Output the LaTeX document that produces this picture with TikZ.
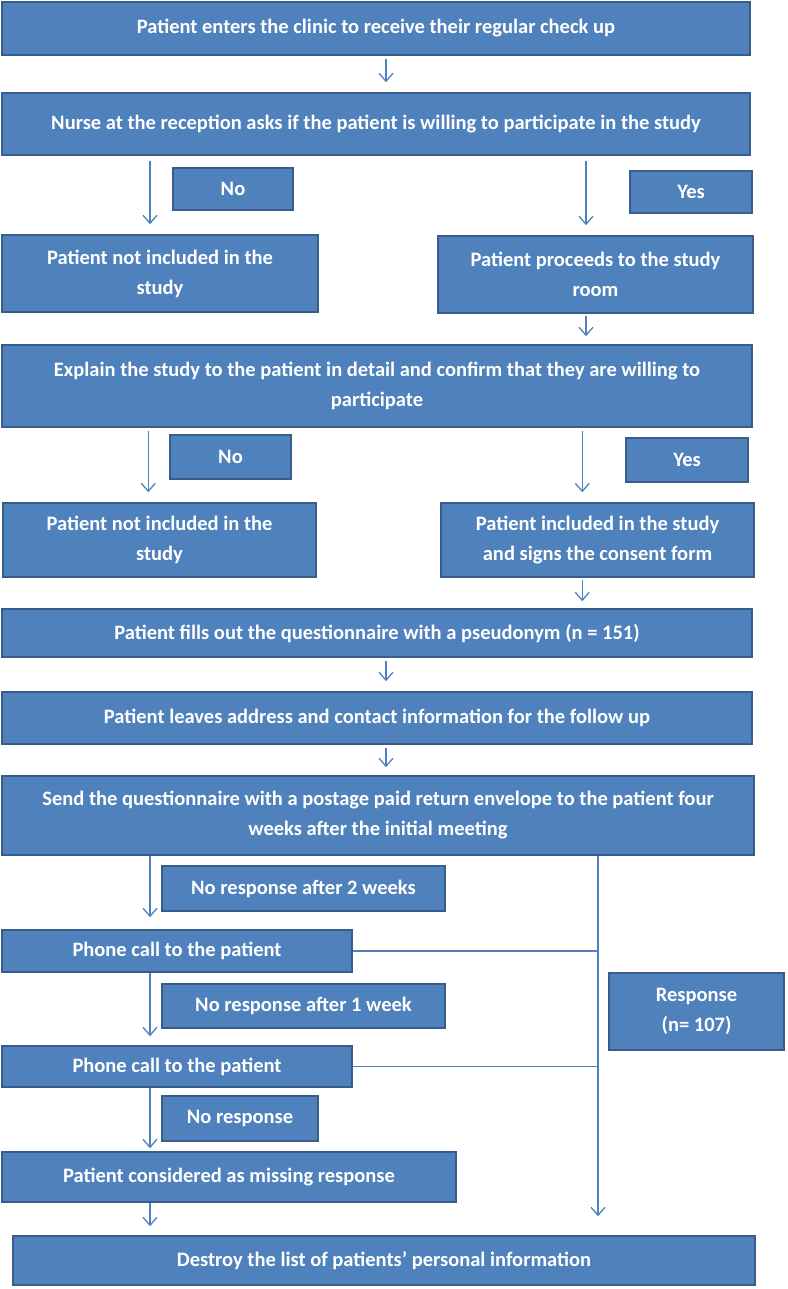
\documentclass[tikz,border=0pt]{standalone}
\usepackage{fontspec}
\setmainfont{Carlito}
\usepackage{xcolor}
\usepackage{tikz}
\usetikzlibrary{arrows.meta,positioning}
\definecolor{boxblue}{HTML}{4F81BD}
\definecolor{edgeblue}{HTML}{385D8A}
\definecolor{linkblue}{HTML}{4F81BD}

\begin{document}
\begin{tikzpicture}[x=1pt,y=-1pt,
  stepbox/.style={draw=edgeblue,fill=boxblue,line width=1.5pt,text=white,
    font=\fontsize{20.5}{30}\selectfont\bfseries,align=center,inner sep=0pt},
  flow/.style={draw=linkblue,line width=1.3pt,-{Straight Barb[length=8pt,width=14pt]}},
  link/.style={draw=linkblue,line width=1.3pt}]
  \useasboundingbox (0,0) rectangle (787,1289);
  \coordinate (lanel) at (150,0);
  \coordinate (laner) at (586,0);
  \coordinate (lanem) at (386,0);
  \coordinate (laneresp) at (598,0);

  \node[stepbox,minimum width=748,minimum height=53] (enter) at (376,28.5) {Patient enters the clinic to receive their regular check up};
  \node[stepbox,minimum width=748,minimum height=62] (nurse) at (376,124) {Nurse at the reception asks if the patient is willing to participate in the study};
  \node[stepbox,minimum width=120,minimum height=42] (no1) at (233,189) {No};
  \node[stepbox,minimum width=122,minimum height=42] (yes1) at (691,192) {Yes};
  \node[stepbox,minimum width=316,minimum height=77] (notin1) at (160,273.5) {Patient not included in the\\study};
  \node[stepbox,minimum width=315,minimum height=77] (proceed) at (595.5,274.5) {Patient proceeds to the study\\room};
  \node[stepbox,minimum width=750,minimum height=82] (explain) at (377,386) {Explain the study to the patient in detail and confirm that they are willing to\\participate};
  \node[stepbox,minimum width=121,minimum height=44] (no2) at (230.5,457) {No};
  \node[stepbox,minimum width=122,minimum height=44] (yes2) at (687,460) {Yes};
  \node[stepbox,minimum width=313,minimum height=74] (notin2) at (159.5,540) {Patient not included in the\\study};
  \node[stepbox,minimum width=313,minimum height=74] (included) at (597.5,540) {Patient included in the study\\and signs the consent form};
  \node[stepbox,minimum width=750,minimum height=48] (fills) at (377,633) {Patient fills out the questionnaire with a pseudonym (n = 151)};
  \node[stepbox,minimum width=750,minimum height=52] (leaves) at (377,718) {Patient leaves address and contact information for the follow up};
  \node[stepbox,minimum width=752,minimum height=79] (send) at (378,815.5) {Send the questionnaire with a postage paid return envelope to the patient four\\weeks after the initial meeting};
  \node[stepbox,minimum width=283,minimum height=45] (nrtwo) at (303.5,888.5) {No response after 2 weeks};
  \node[stepbox,minimum width=350,minimum height=42] (phone1) at (177,951) {Phone call to the patient};
  \node[stepbox,minimum width=283,minimum height=44] (nrone) at (303.5,1006) {No response after 1 week};
  \node[stepbox,minimum width=175,minimum height=77] (response) at (696.5,1011.5) {Response\\(n= 107)};
  \node[stepbox,minimum width=350,minimum height=41] (phone2) at (177,1066.5) {Phone call to the patient};
  \node[stepbox,minimum width=156,minimum height=45] (noresp) at (240,1118.5) {No response};
  \node[stepbox,minimum width=454,minimum height=50] (missing) at (229,1177) {Patient considered as missing response};
  \node[stepbox,minimum width=742,minimum height=49] (destroy) at (384,1260.5) {Destroy the list of patients' personal information};

  \draw[flow,shorten <=3pt,shorten >=10pt] (enter.south -| lanem) -- (nurse.north -| lanem);
  \draw[flow,shorten <=5pt,shorten >=10pt] (nurse.south -| lanel) -- (notin1.north -| lanel);
  \draw[flow,shorten <=5pt,shorten >=10pt] (nurse.south -| laner) -- (proceed.north -| laner);
  \draw[flow,shorten <=2pt,shorten >=8pt] (proceed.south -| laner) -- (explain.north -| laner);
  \draw[flow,shorten <=3pt,shorten >=10pt] (explain.south -| notin2.north west) ++(146,0) coordinate (ex2) -- (notin2.north -| ex2);
  \draw[flow,shorten <=3pt,shorten >=10pt] (explain.south -| included.north west) ++(142,0) coordinate (ex3) -- (included.north -| ex3);
  \draw[flow,shorten <=2pt,shorten >=7pt] (included.south -| ex3) -- (fills.north -| ex3);
  \draw[flow,shorten <=3pt,shorten >=10pt] (fills.south -| lanem) -- (leaves.north -| lanem);
  \draw[flow,shorten <=3pt,shorten >=8pt] (leaves.south -| lanem) -- (send.north -| lanem);
  \draw[flow,shorten >=12pt] (send.south -| lanel) -- (phone1.north -| lanel);
  \draw[flow,shorten >=9pt] (phone1.south -| lanel) -- (phone2.north -| lanel);
  \draw[flow,shorten >=3pt] (phone2.south -| lanel) -- (missing.north -| lanel);
  \draw[flow,shorten >=9pt] (missing.south -| lanel) -- (destroy.north -| lanel);
  \draw[flow,shorten >=19pt] (send.south -| laneresp) -- (destroy.north -| laneresp);
  \draw[link] (phone1.east) -- (phone1.east -| laneresp);
  \draw[link] (phone2.east) -- (phone2.east -| laneresp);
\end{tikzpicture}
\end{document}
